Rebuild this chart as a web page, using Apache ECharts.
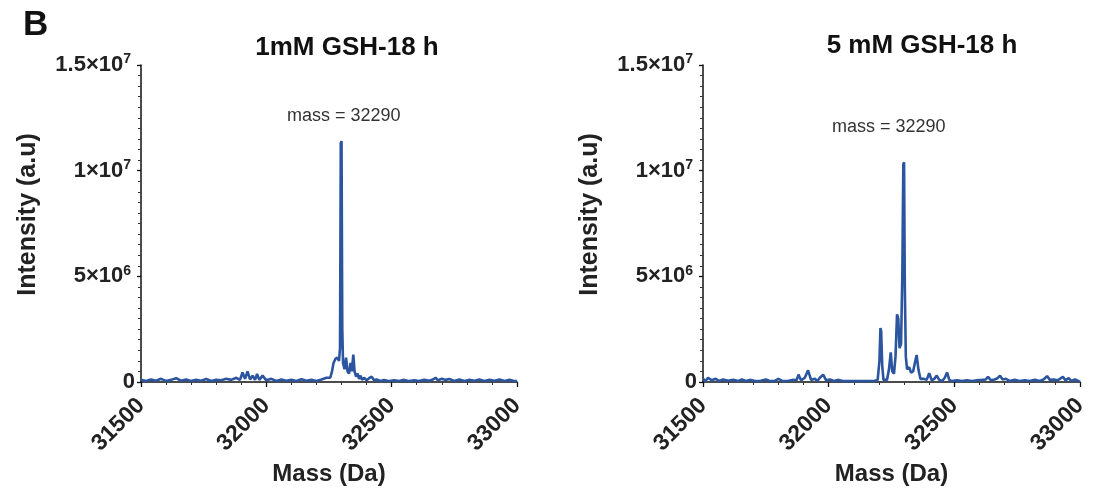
<!DOCTYPE html>
<html>
<head>
<meta charset="utf-8">
<script src="https://cdn.jsdelivr.net/npm/echarts@6/dist/echarts.min.js"></script>
<style>
  html, body { margin: 0; padding: 0; background: #fff; }
  #chart { width: 1107px; height: 490px; }
</style>
</head>
<body>
<div id="chart"></div>
<script>
// intensity values are in units of 1e6 (a.u)
const mass1 = [31500, 31520, 31540, 31560, 31580, 31600, 31620, 31640, 31660, 31680, 31700, 31720, 31740, 31760, 31780, 31800, 31820, 31840, 31860, 31880, 31895, 31905, 31915, 31925, 31935, 31945, 31955, 31963, 31972, 31985, 32000, 32020, 32040, 32060, 32080, 32100, 32120, 32140, 32160, 32180, 32200, 32220, 32240, 32255, 32262, 32268, 32276, 32284, 32290, 32294, 32297, 32300, 32303, 32306, 32312, 32318, 32324, 32330, 32336, 32341, 32347, 32352, 32358, 32364, 32370, 32376, 32382, 32390, 32400, 32410, 32420, 32430, 32440, 32455, 32470, 32490, 32510, 32530, 32550, 32570, 32590, 32610, 32630, 32650, 32665, 32675, 32685, 32700, 32715, 32730, 32750, 32770, 32790, 32810, 32830, 32850, 32870, 32890, 32910, 32930, 32950, 32970, 32985, 33000];
const int1 = [0.1, 0.05, 0.12, 0.06, 0.15, 0.05, 0.1, 0.18, 0.06, 0.12, 0.05, 0.1, 0.06, 0.14, 0.05, 0.1, 0.08, 0.15, 0.1, 0.2, 0.1, 0.45, 0.15, 0.5, 0.12, 0.3, 0.1, 0.38, 0.1, 0.3, 0.08, 0.15, 0.05, 0.12, 0.06, 0.1, 0.05, 0.13, 0.06, 0.1, 0.05, 0.12, 0.2, 0.2, 0.5, 0.9, 1.1, 1.15, 1.0, 1.6, 11.3, 11.4, 2.5, 0.9, 0.6, 1.15, 0.5, 0.4, 0.9, 0.5, 1.3, 0.5, 0.25, 0.4, 0.15, 0.3, 0.1, 0.2, 0.08, 0.18, 0.25, 0.08, 0.12, 0.05, 0.1, 0.04, 0.08, 0.05, 0.1, 0.04, 0.08, 0.05, 0.1, 0.06, 0.12, 0.2, 0.08, 0.15, 0.1, 0.14, 0.05, 0.12, 0.05, 0.1, 0.06, 0.12, 0.05, 0.1, 0.06, 0.12, 0.05, 0.1, 0.06, 0.05];

const mass2 = [31500, 31510, 31520, 31535, 31550, 31565, 31580, 31600, 31620, 31640, 31655, 31670, 31690, 31710, 31730, 31750, 31765, 31785, 31800, 31815, 31840, 31860, 31872, 31880, 31890, 31905, 31918, 31930, 31945, 31955, 31965, 31978, 31990, 32005, 32020, 32040, 32060, 32080, 32100, 32120, 32140, 32160, 32180, 32195, 32202, 32206, 32209, 32213, 32218, 32225, 32232, 32240, 32247, 32253, 32260, 32266, 32272, 32277, 32282, 32288, 32293, 32297, 32300, 32303, 32307, 32312, 32320, 32328, 32336, 32343, 32350, 32357, 32365, 32372, 32380, 32390, 32400, 32410, 32420, 32430, 32440, 32452, 32462, 32471, 32480, 32490, 32510, 32530, 32550, 32570, 32590, 32610, 32625, 32634, 32645, 32660, 32672, 32682, 32692, 32705, 32720, 32740, 32760, 32780, 32800, 32820, 32840, 32855, 32869, 32880, 32895, 32910, 32920, 32932, 32942, 32955, 32965, 32980, 33000];
const int2 = [0.15, 0.05, 0.2, 0.08, 0.15, 0.05, 0.12, 0.06, 0.1, 0.05, 0.12, 0.05, 0.1, 0.04, 0.06, 0.12, 0.05, 0.05, 0.15, 0.05, 0.06, 0.1, 0.08, 0.35, 0.08, 0.2, 0.55, 0.1, 0.15, 0.05, 0.2, 0.35, 0.08, 0.12, 0.05, 0.1, 0.04, 0.05, 0.04, 0.05, 0.04, 0.05, 0.05, 0.1, 1.0, 2.55, 2.4, 0.8, 0.1, 0.05, 0.1, 0.6, 1.4, 0.5, 0.4, 1.2, 3.2, 3.0, 1.6, 1.8, 5.0, 10.3, 10.4, 4.5, 1.2, 0.6, 0.7, 0.45, 0.5, 0.9, 1.28, 0.6, 0.15, 0.1, 0.15, 0.1, 0.42, 0.08, 0.15, 0.3, 0.1, 0.05, 0.2, 0.45, 0.1, 0.04, 0.08, 0.04, 0.08, 0.05, 0.08, 0.1, 0.12, 0.25, 0.08, 0.12, 0.18, 0.3, 0.12, 0.15, 0.05, 0.1, 0.05, 0.08, 0.05, 0.1, 0.05, 0.12, 0.28, 0.1, 0.12, 0.08, 0.15, 0.25, 0.08, 0.18, 0.05, 0.12, 0.02];

const panelTitles = ['1mM GSH-18 h', '5 mM GSH-18 h'];
const yTickLabels = { 0: '0', 5: '5×10{sup|6}', 10: '1×10{sup|7}', 15: '1.5×10{sup|7}' };
const peakNote = 'mass = 32290';

const FONT = 'Liberation Sans, Arial, Helvetica, sans-serif';
const LINE = '#2c55a0';

const chart = echarts.init(document.getElementById('chart'));

function xAxisFor(gridIndex) {
  return {
    gridIndex,
    type: 'value',
    min: 31500,
    max: 33000,
    interval: 500,
    name: 'Mass (Da)',
    nameLocation: 'middle',
    nameGap: 76,
    nameTextStyle: { fontFamily: FONT, fontWeight: 'bold', fontSize: 24, color: '#222' },
    axisLine: { lineStyle: { color: '#111', width: 1.5 } },
    axisTick: { length: 5, lineStyle: { color: '#111', width: 1.3 } },
    minorTick: { show: true, splitNumber: 5, length: 3, lineStyle: { color: '#333' } },
    splitLine: { show: false },
    axisLabel: {
      rotate: 45, margin: 20,
      fontFamily: FONT, fontWeight: 'bold', fontSize: 23, color: '#222',
      formatter: v => String(v)
    }
  };
}

function yAxisFor(gridIndex) {
  return {
    gridIndex,
    type: 'value',
    min: 0,
    max: 15,
    interval: 5,
    name: 'Intensity (a.u)',
    nameLocation: 'middle',
    nameGap: 100,
    nameTextStyle: { fontFamily: FONT, fontWeight: 'bold', fontSize: 25, color: '#222', padding: [0, 0, 0, 18] },
    axisLine: { show: true, lineStyle: { color: '#111', width: 1.5 } },
    axisTick: { show: true, length: 4, lineStyle: { color: '#111', width: 1.3 } },
    minorTick: { show: true, splitNumber: 10, length: 3, lineStyle: { color: '#333' } },
    splitLine: { show: false },
    axisLabel: {
      margin: 6,
      fontFamily: FONT, fontWeight: 'bold', fontSize: 22, color: '#222',
      formatter: v => yTickLabels[v] ?? '',
      rich: {
        sup: { fontFamily: FONT, fontWeight: 'bold', fontSize: 14, color: '#222', verticalAlign: 'top', padding: [0, 4, 11, 0] }
      }
    }
  };
}

function seriesFor(i, masses, vals) {
  return {
    type: 'line',
    xAxisIndex: i,
    yAxisIndex: i,
    data: masses.map((m, k) => [m, vals[k]]),
    showSymbol: false,
    lineStyle: { color: LINE, width: 2.6 },
    itemStyle: { color: LINE },
    z: 1
  };
}

chart.setOption({
  backgroundColor: '#fff',
  animation: false,
  title: [
    { text: 'B', left: 18, top: 3, textStyle: { fontFamily: FONT, fontWeight: 'bold', fontSize: 35, color: '#111' } },
    { text: panelTitles[0], left: 342, top: 30, textAlign: 'center', textStyle: { fontFamily: FONT, fontWeight: 'bold', fontSize: 26, color: '#111' } },
    { text: panelTitles[1], left: 917, top: 28, textAlign: 'center', textStyle: { fontFamily: FONT, fontWeight: 'bold', fontSize: 26, color: '#111' } }
  ],
  graphic: [
    { type: 'text', left: 287, top: 107, style: { text: peakNote, font: '18px ' + FONT, fill: '#333' } },
    { type: 'text', left: 832, top: 118, style: { text: peakNote, font: '18px ' + FONT, fill: '#333' } }
  ],
  grid: [
    { left: 141, top: 65, width: 376, height: 317, outerBoundsMode: 'none', containLabel: false },
    { left: 703, top: 65, width: 377, height: 317, outerBoundsMode: 'none', containLabel: false }
  ],
  xAxis: [xAxisFor(0), xAxisFor(1)],
  yAxis: [yAxisFor(0), yAxisFor(1)],
  series: [seriesFor(0, mass1, int1), seriesFor(1, mass2, int2)]
});
</script>
</body>
</html>
